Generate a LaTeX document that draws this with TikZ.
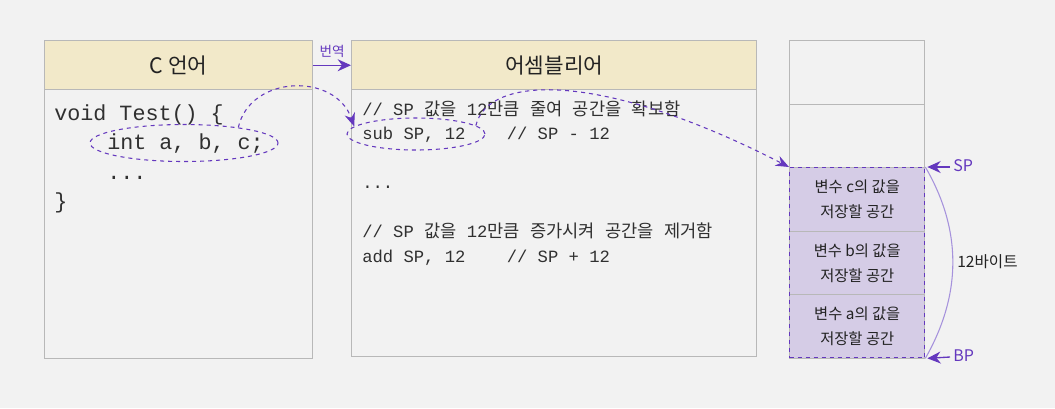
\documentclass[tikz,border=0pt]{standalone}
\usepackage{fontspec}
\setmainfont{Noto Sans CJK KR}
\newfontfamily\codefont{Liberation Mono}
\newfontfamily\kfont{Noto Sans CJK KR}
\usetikzlibrary{arrows.meta,shapes.geometric}
\definecolor{bgc}{HTML}{F2F2F2}
\definecolor{bordc}{HTML}{B8B8B8}
\definecolor{headc}{HTML}{F2E9C9}
\definecolor{purp}{HTML}{6438BE}
\definecolor{lpurp}{HTML}{D5CCE6}
\definecolor{cpurp}{HTML}{A692DC}
\definecolor{txt}{HTML}{222222}
\definecolor{codetxt}{HTML}{303030}
\newcommand{\Kc}[1]{{\kfont\fontsize{13.2pt}{15pt}\selectfont #1}}
\begin{document}
\begin{tikzpicture}[x=0.75pt,y=-0.75pt,
  box/.style={draw=bordc,line width=1.1pt,inner sep=0pt,anchor=north west},
  header/.style={box,fill=headc,font=\fontsize{16pt}{19pt}\selectfont,text=txt},
  bigcode/.style={anchor=base west,inner sep=0pt,text=codetxt,font=\codefont\fontsize{16.3pt}{19pt}\selectfont},
  smallcode/.style={anchor=base west,inner sep=0pt,text=codetxt,font=\codefont\fontsize{12.9pt}{15pt}\selectfont},
  cellbox/.style={draw=bordc,line width=1.1pt,inner sep=0pt,anchor=north west,minimum width={135*0.75pt},minimum height={63.5*0.75pt}},
  varcell/.style={cellbox,fill=lpurp,text=txt,align=center,font=\fontsize{11.5pt}{18.8pt}\selectfont},
  markell/.style={ellipse,draw=purp,dashed,line width=0.8pt,inner sep=0pt},
  markarrow/.style={draw=purp,dashed,line width=0.8pt,-{Stealth[length=10pt,width=8pt]}},
  ptr/.style={draw=purp,line width=1pt,-{Stealth[length=10pt,width=9pt]}},
  ptrlabel/.style={anchor=west,inner sep=0pt,text=purp,font=\fontsize{12pt}{14pt}\selectfont}]
\fill[bgc] (0,0) rectangle (1055,408);
\useasboundingbox (0,0) rectangle (1055,408);

% left box
\node[box,minimum width={268*0.75pt},minimum height={269*0.75pt}] (cbody) at (44,89) {};
\node[header,minimum width={268*0.75pt},minimum height={49*0.75pt}] (chead) at (44,40) {C 언어};
\node[bigcode] (l1) at (54,120) {void Test() \{};
\node[bigcode] (l2) at (107,149.5) {int a, b, c;};
\node[bigcode] (l3) at (107,179) {...};
\node[bigcode] (l4) at (54,208.5) {\}};

% middle box
\node[box,minimum width={405*0.75pt},minimum height={267*0.75pt}] (abody) at (351,89) {};
\node[header,minimum width={405*0.75pt},minimum height={49*0.75pt}] (ahead) at (351,40) {어셈블리어};
\node[smallcode] (m1) at (362,115) {// SP \Kc{값을} 12\Kc{만큼} \Kc{줄여} \Kc{공간을} \Kc{확보함}};
\node[smallcode] (m2) at (362,139.5) {sub SP, 12\ \ \ \ // SP - 12};
\node[smallcode] (m3) at (362,188.5) {...};
\node[smallcode] (m4) at (362,237.5) {// SP \Kc{값을} 12\Kc{만큼} \Kc{증가시켜} \Kc{공간을} \Kc{제거함}};
\node[smallcode] (m5) at (362,262) {add SP, 12\ \ \ \ // SP + 12};

% translate arrow
\draw[ptr,line width=0.9pt] (chead.east) -- (ahead.west) node[midway,above={7*0.75pt},text=purp,inner sep=0pt,font=\fontsize{10.2pt}{12pt}\selectfont] (tr) {번역};

% stack
\node[cellbox] (s1) at (789,40) {};
\node[cellbox] (s2) at (789,103.5) {};
\node[varcell] (sc) at (789,167) {변수 c의 값을\\저장할 공간};
\node[varcell] (sb) at (789,230.5) {변수 b의 값을\\저장할 공간};
\node[varcell] (sa) at (789,294) {변수 a의 값을\\저장할 공간};
\node[draw=purp,dashed,line width=1pt,anchor=north west,inner sep=0pt,minimum width={135*0.75pt},minimum height={190*0.75pt}] (region) at (789,167) {};

% ellipses
\node[markell,minimum width={188*0.75pt},minimum height={37*0.75pt}] (e1) at (184,143) {};
\node[markell,minimum width={138*0.75pt},minimum height={32*0.75pt}] (e2) at (416,134) {};

% dashed curves
\draw[markarrow] (e1.16) .. controls (250,75) and (335,72) .. (e2.173);
\draw[markarrow] (e2.8) .. controls (488,75) and (600,70) .. (region.north west);

% SP / BP pointers
\coordinate (spt) at (950,167);
\coordinate (bpt) at (950,357);
\draw[ptr] (spt) -- ([xshift=1.5pt]region.north east);
\draw[ptr] (bpt) -- ([xshift=1.5pt]region.south east);
\node[ptrlabel] (splab) at (953,166) {SP};
\node[ptrlabel] (bplab) at (953,356) {BP};

% 12 bytes
\draw[cpurp,line width=0.8pt] (region.north east) .. controls (962,230) and (962,294) .. (region.south east);
\node[anchor=west,inner sep=0pt,text=txt,font=\fontsize{11.7pt}{13pt}\selectfont] (bytes) at (957,262) {12바이트};
\end{tikzpicture}
\end{document}
